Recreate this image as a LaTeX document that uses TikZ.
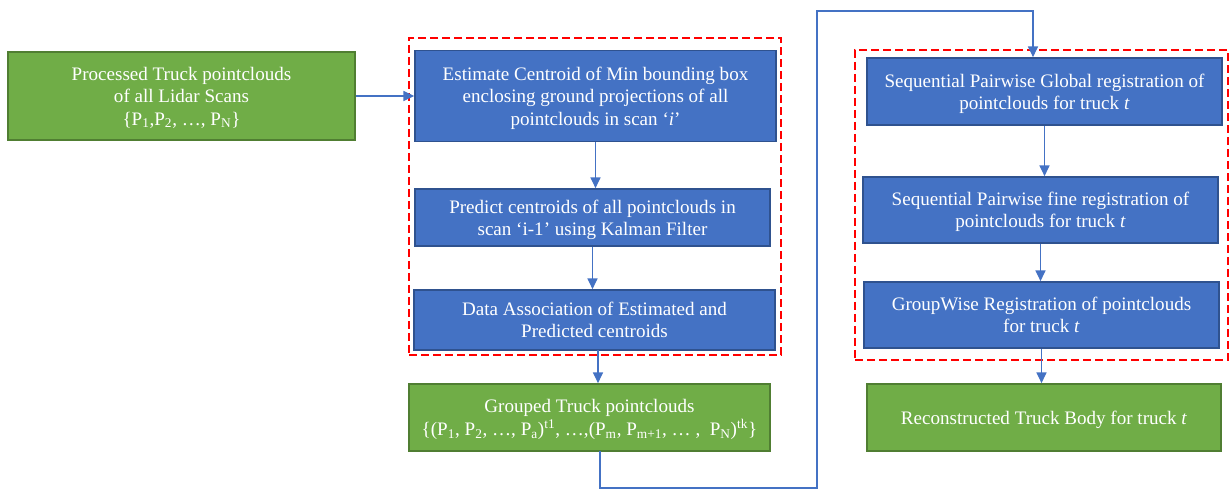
\documentclass[tikz,border=0pt]{standalone}
\usepackage{fontspec}
\setmainfont{Liberation Serif}
\usetikzlibrary{fit,arrows.meta}
\definecolor{boxblue}{HTML}{4472C4}
\definecolor{boxblueedge}{HTML}{2F528F}
\definecolor{boxgreen}{HTML}{70AD47}
\definecolor{boxgreenedge}{HTML}{507E32}
\definecolor{lineblue}{HTML}{4472C4}
\begin{document}
\begin{tikzpicture}[x=0.75pt,y=-0.75pt,
  box/.style={draw, line width=1.3pt, inner sep=0pt, align=center, text=white,
    text depth=-3pt, font=\fontsize{14.3}{16.8}\selectfont},
  bluebox/.style={box, fill=boxblue, draw=boxblueedge},
  greenbox/.style={box, fill=boxgreen, draw=boxgreenedge},
  size/.style 2 args={minimum width=#1, minimum height=#2},
  groupbox/.style={draw=red, line width=1.5pt, dash pattern=on 6pt off 3pt, inner sep=0pt},
  flow/.style={draw=lineblue, line width=0.9pt, -{Triangle[length=8pt,width=7.5pt]}}]
\useasboundingbox (0,0) rectangle (1231,491);

% dashed processing groups
\node[groupbox, fit={(409,38) (781,355)}] (grpA) {};
\node[groupbox, fit={(855,50) (1228,360)}] (grpB) {};

% left column
\node[greenbox, size={260.25pt}{66pt}] (input) at (181.5,96)
  {Processed Truck pointclouds\\of all Lidar Scans\\
   \{P\textsubscript{1},P\textsubscript{2}, \dots, P\textsubscript{N}\}};

% middle column
\node[bluebox, size={270.75pt}{68.25pt}] (est) at (595.5,96)
  {Estimate Centroid of Min bounding box\\enclosing ground projections of all\\
   pointclouds in scan `\textit{i}'};
\node[bluebox, size={266.25pt}{42.75pt}] (pred) at (592.5,217.5)
  {Predict centroids of all pointclouds in\\scan `i-1' using Kalman Filter};
\node[bluebox, size={270.75pt}{45pt}] (assoc) at (594.5,320)
  {Data Association of Estimated and\\Predicted centroids};
\node[greenbox, size={270.75pt}{50.25pt}] (grouped) at (589.5,417.5)
  {Grouped Truck pointclouds\\
   \{(P\textsubscript{1}, P\textsubscript{2}, \dots, P\textsubscript{a})\textsuperscript{t1}, \dots,(P\textsubscript{m}, P\textsubscript{m+1}, \dots\ ,\ \ P\textsubscript{N})\textsuperscript{tk}\}};

% right column
\node[bluebox, size={266.25pt}{50.25pt}] (glob) at (1044.5,91.5)
  {Sequential Pairwise Global registration of\\pointclouds for truck \textit{t}};
\node[bluebox, size={266.25pt}{49.5pt}] (fine) at (1040.5,210)
  {Sequential Pairwise fine registration of\\pointclouds for truck \textit{t}};
\node[bluebox, size={266.25pt}{49.5pt}] (gw) at (1041.5,315)
  {GroupWise Registration of pointclouds\\for truck \textit{t}};
\node[greenbox, size={265.5pt}{50.25pt}] (recon) at (1044,417.5)
  {Reconstructed Truck Body for truck \textit{t}};

% routing points of the links
\coordinate (assocout) at (598,350);
\coordinate (groupout) at (600,451);
\coordinate (lowturn) at (817,488);
\coordinate (highturn) at (817,11);
\coordinate (dropin) at (1033,11);

% connectors
\draw[flow] (input.east) -- (input.east -| est.west);
\draw[flow] (est.south) -- (est.south |- pred.north);
\draw[flow] (pred.south) -- (pred.south |- assoc.north);
\draw[flow] (assocout) -- (assocout |- grouped.north);
\draw[flow] (groupout) |- (lowturn) -- (highturn) -- (dropin) -- (dropin |- glob.north);
\draw[flow] (glob.south) -- (glob.south |- fine.north);
\draw[flow] (fine.south) -- (fine.south |- gw.north);
\draw[flow] (gw.south) -- (gw.south |- recon.north);
\end{tikzpicture}
\end{document}
